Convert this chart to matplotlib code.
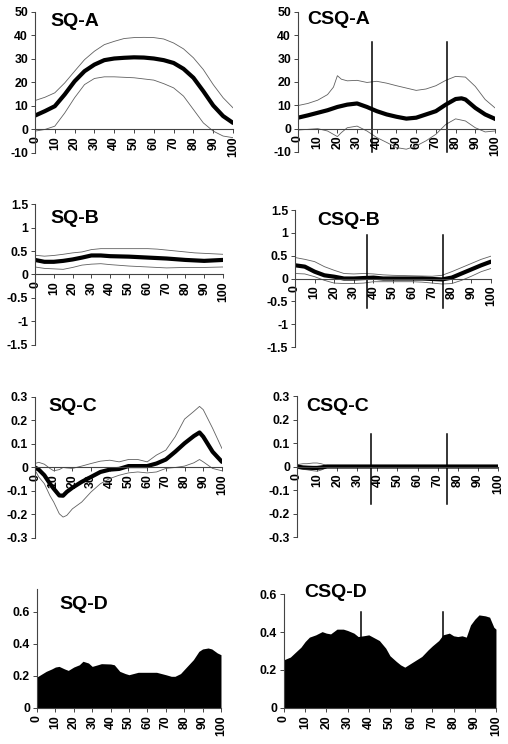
import matplotlib
matplotlib.use("Agg")
import matplotlib.pyplot as plt

plt.rcParams['font.family'] = ['Liberation Sans', 'DejaVu Sans']
plt.rcParams['font.weight'] = 'bold'

# x positions (% of cycle)
x21 = list(range(0, 101, 5))

# SQ-A
sqa_mean = [5.9, 7.8, 9.9, 14.9, 20.5, 24.8, 27.6, 29.5, 30.2, 30.5, 30.7,
            30.6, 30.2, 29.5, 28.3, 25.8, 22.0, 16.3, 10.2, 5.7, 2.8]
sqa_upper = [12.3, 13.7, 15.6, 19.8, 24.8, 29.7, 33.3, 36.1, 37.5, 38.7, 39.1,
             39.2, 39.1, 38.5, 36.8, 34.3, 30.5, 25.5, 19.1, 13.5, 9.2]
sqa_lower = [-0.7, 0.0, 1.4, 7.0, 13.5, 19.1, 21.7, 22.4, 22.4, 22.2, 22.0,
             21.5, 21.0, 19.5, 17.7, 14.2, 8.5, 2.8, -0.7, -2.8, -3.5]

# CSQ-A
csqa_mean_x = [0, 5, 10, 15, 20, 25, 30, 35, 40, 45, 50, 55, 60, 65, 70, 75, 80, 83, 85, 90, 95, 100]
csqa_mean = [4.7, 5.7, 6.8, 7.9, 9.3, 10.3, 10.8, 9.3, 7.5, 6.1, 5.1, 4.3, 4.7, 6.1, 7.5, 10.3,
             12.7, 13.0, 12.5, 8.9, 6.1, 4.2]
csqa_upper_x = [0, 5, 10, 15, 18, 20, 22, 25, 30, 35, 40, 45, 50, 55, 60, 65, 70, 75, 80, 85, 90, 95, 100]
csqa_upper = [9.9, 10.8, 12.2, 14.6, 17.8, 22.7, 21.2, 20.5, 20.7, 19.8, 20.3, 19.5, 18.4, 17.4,
              16.4, 17.0, 18.4, 20.7, 22.4, 22.1, 18.1, 12.5, 8.9]
csqa_lower_x = [0, 5, 10, 15, 20, 22, 25, 30, 35, 40, 45, 50, 55, 60, 65, 70, 75, 80, 85, 90, 95, 100]
csqa_lower = [-0.6, -0.3, 0.0, -1.0, -3.4, -1.7, 0.4, 1.1, -1.0, -3.8, -5.9, -8.1, -8.8, -7.4,
              -5.2, -2.4, 1.8, 4.2, 3.3, 0.4, -1.4, -1.0]
csqa_events = [37.6, 75.6]
csqa_event_span = [-10, 37]

# SQ-B
sqb_mean = [0.31, 0.27, 0.27, 0.29, 0.32, 0.36, 0.405, 0.405, 0.39, 0.385, 0.38,
            0.37, 0.36, 0.35, 0.34, 0.325, 0.31, 0.30, 0.29, 0.30, 0.31]
sqb_upper = [0.41, 0.39, 0.405, 0.43, 0.46, 0.48, 0.53, 0.55, 0.55, 0.55, 0.55,
             0.55, 0.55, 0.54, 0.52, 0.50, 0.48, 0.46, 0.45, 0.44, 0.43]
sqb_lower = [0.16, 0.13, 0.12, 0.11, 0.15, 0.20, 0.22, 0.23, 0.21, 0.195, 0.18,
             0.17, 0.16, 0.15, 0.14, 0.145, 0.15, 0.15, 0.15, 0.155, 0.16]

# CSQ-B
csqb_mean = [0.29, 0.26, 0.15, 0.07, 0.04, 0.0, 0.0, 0.01, 0.02, 0.0, 0.0,
             0.0, 0.0, 0.0, -0.01, -0.02, 0.02, 0.11, 0.20, 0.29, 0.37]
csqb_upper = [0.46, 0.42, 0.37, 0.26, 0.18, 0.11, 0.10, 0.11, 0.10, 0.08, 0.07,
              0.065, 0.06, 0.055, 0.05, 0.07, 0.15, 0.24, 0.33, 0.42, 0.49]
csqb_lower = [0.11, 0.10, 0.04, -0.04, -0.10, -0.11, -0.11, -0.10, -0.07, -0.07, -0.07,
              -0.07, -0.07, -0.08, -0.10, -0.12, -0.11, -0.04, 0.05, 0.15, 0.22]
csqb_events = [36.7, 75.5]
csqb_event_span = [-0.64, 0.95]

# SQ-C
sqc_x = [0, 2, 5, 8, 10, 13, 15, 17, 20, 25, 30, 35, 40, 45, 50, 55, 60, 65, 70, 75, 80, 85, 88, 90, 95, 100]
sqc_mean = [0.0, -0.009, -0.033, -0.069, -0.09, -0.119, -0.12, -0.104, -0.086, -0.061, -0.04,
            -0.019, -0.009, -0.006, 0.006, 0.006, 0.006, 0.017, 0.034, 0.067, 0.103, 0.134,
            0.149, 0.131, 0.067, 0.024]
sqc_upper = [0.017, 0.022, 0.014, -0.004, -0.014, -0.009, 0.0, -0.002, -0.004, 0.006, 0.017,
             0.027, 0.031, 0.024, 0.034, 0.034, 0.024, 0.053, 0.074, 0.131, 0.206, 0.239,
             0.26, 0.246, 0.167, 0.081]
sqc_lower = [-0.011, -0.04, -0.069, -0.12, -0.147, -0.197, -0.211, -0.204, -0.176, -0.147, -0.104,
             -0.069, -0.047, -0.033, -0.023, -0.019, -0.023, -0.019, -0.004, 0.0, 0.006, 0.02,
             0.034, 0.024, -0.004, -0.014]

# CSQ-C
csqc_x = [0, 3, 5, 8, 10, 12, 15, 20, 100]
csqc_mean = [0.0, -0.004, -0.005, -0.006, -0.006, -0.004, 0.0, 0.0, 0.0]
csqc_upper = [0.008, 0.012, 0.012, 0.015, 0.015, 0.012, 0.004, 0.002, 0.002]
csqc_lower = [-0.008, -0.012, -0.014, -0.018, -0.02, -0.015, -0.004, -0.002, -0.002]
csqc_events = [36.8, 74.6]
csqc_event_span = [-0.16, 0.137]

# SQ-D
sqd_x = [0, 3, 5, 8, 10, 12, 15, 17, 20, 23, 25, 28, 30, 33, 35, 40, 42, 45, 48, 50,
         55, 60, 65, 70, 73, 75, 78, 80, 85, 88, 90, 93, 95, 98, 100]
sqd_y = [0.194, 0.215, 0.229, 0.244, 0.256, 0.26, 0.244, 0.235, 0.256, 0.27, 0.292, 0.281,
         0.26, 0.27, 0.277, 0.275, 0.27, 0.229, 0.215, 0.208, 0.223, 0.223, 0.223, 0.208,
         0.198, 0.198, 0.215, 0.24, 0.302, 0.354, 0.369, 0.375, 0.369, 0.344, 0.333]

# CSQ-D
csqd_x = [0, 3, 5, 8, 10, 12, 15, 18, 20, 22, 25, 28, 30, 33, 35, 38, 40, 43, 45, 48, 50,
          53, 55, 57, 60, 63, 65, 68, 70, 73, 75, 78, 80, 82, 84, 86, 88, 90, 92, 95, 97, 99, 100]
csqd_y = [0.254, 0.268, 0.289, 0.32, 0.35, 0.373, 0.385, 0.402, 0.394, 0.39, 0.415, 0.415,
          0.408, 0.394, 0.376, 0.381, 0.385, 0.367, 0.355, 0.315, 0.275, 0.245, 0.227, 0.215,
          0.236, 0.257, 0.271, 0.306, 0.327, 0.355, 0.385, 0.394, 0.38, 0.376, 0.38, 0.373,
          0.437, 0.467, 0.49, 0.485, 0.478, 0.425, 0.415]
csqd_events = [36.3, 75.0]
csqd_event_span = [0, 0.505]

xticks = list(range(0, 101, 10))

fig = plt.figure(figsize=(5.08, 7.44), dpi=100)


def setup(ax, ylim, yticks, ylabels, title, tpos):
    ax.set_xlim(0, 100)
    ax.set_ylim(*ylim)
    for s in ['top', 'right']:
        ax.spines[s].set_visible(False)
    ax.spines['bottom'].set_position(('data', 0))
    for s in ['left', 'bottom']:
        ax.spines[s].set_color('#444444')
        ax.spines[s].set_linewidth(0.8)
    ax.set_yticks(yticks)
    ax.set_yticklabels(ylabels, fontsize=8.8, fontweight='bold')
    ax.set_xticks(xticks)
    ax.set_xticklabels([str(t) for t in xticks], rotation=90, fontsize=8.8,
                       fontweight='bold')
    ax.tick_params(axis='both', direction='out', length=3, width=0.7,
                   color='#444444', pad=2)
    ax.text(tpos[0], tpos[1], title, transform=ax.transAxes, fontsize=14,
            fontweight='bold', va='center', ha='left', clip_on=False)


def sd_lines(ax, x, mean, upper, lower):
    ax.plot(x, upper, color='#606060', lw=0.6)
    ax.plot(x, lower, color='#606060', lw=0.6)
    ax.plot(x, mean, color='black', lw=3, solid_capstyle='round')


def events(ax, xs, span):
    for ev in xs:
        ax.plot([ev, ev], span, color='black', lw=1.1, clip_on=False)


a_ticks = [-10, 0, 10, 20, 30, 40, 50]
a_labels = ['-10', '0', '10', '20', '30', '40', '50']
b_ticks = [-1.5, -1, -0.5, 0, 0.5, 1, 1.5]
b_labels = ['-1.5', '-1', '-0.5', '0', '0.5', '1', '1.5']
c_ticks = [-0.3, -0.2, -0.1, 0, 0.1, 0.2, 0.3]
c_labels = ['-0.3', '-0.2', '-0.1', '0', '0.1', '0.2', '0.3']
d_ticks = [0, 0.2, 0.4, 0.6]
d_labels = ['0', '0.2', '0.4', '0.6']

# SQ-A
ax = fig.add_axes([0.0689, 0.7944, 0.3898, 0.1895])
sd_lines(ax, x21, sqa_mean, sqa_upper, sqa_lower)
setup(ax, (-10, 50), a_ticks, a_labels, 'SQ-A', (0.076, 0.936))

# CSQ-A
ax = fig.add_axes([0.5866, 0.7957, 0.3878, 0.1882])
ax.plot(csqa_upper_x, csqa_upper, color='#606060', lw=0.6)
ax.plot(csqa_lower_x, csqa_lower, color='#606060', lw=0.6)
ax.plot(csqa_mean_x, csqa_mean, color='black', lw=3)
events(ax, csqa_events, csqa_event_span)
setup(ax, (-10, 50), a_ticks, a_labels, 'CSQ-A', (0.046, 0.943))

# SQ-B
ax = fig.add_axes([0.0689, 0.5363, 0.370, 0.1895])
sd_lines(ax, x21, sqb_mean, sqb_upper, sqb_lower)
setup(ax, (-1.5, 1.5), b_ticks, b_labels, 'SQ-B', (0.08, 0.90))

# CSQ-B
ax = fig.add_axes([0.5807, 0.5336, 0.3858, 0.1841])
sd_lines(ax, x21, csqb_mean, csqb_upper, csqb_lower)
events(ax, csqb_events, csqb_event_span)
setup(ax, (-1.5, 1.5), b_ticks, b_labels, 'CSQ-B', (0.112, 0.927))

# SQ-C
ax = fig.add_axes([0.0689, 0.2769, 0.368, 0.1895])
sd_lines(ax, sqc_x, sqc_mean, sqc_upper, sqc_lower)
setup(ax, (-0.3, 0.3), c_ticks, c_labels, 'SQ-C', (0.07, 0.936))

# CSQ-C
ax = fig.add_axes([0.5846, 0.2782, 0.3957, 0.1895])
sd_lines(ax, csqc_x, csqc_mean, csqc_upper, csqc_lower)
events(ax, csqc_events, csqc_event_span)
setup(ax, (-0.3, 0.3), c_ticks, c_labels, 'CSQ-C', (0.045, 0.929))

# SQ-D
ax = fig.add_axes([0.0728, 0.0484, 0.3622, 0.16])
ax.fill_between(sqd_x, 0, sqd_y, color='black', lw=0)
setup(ax, (0, 0.744), d_ticks, d_labels, 'SQ-D', (0.12, 0.866))

# CSQ-D
ax = fig.add_axes([0.559, 0.0484, 0.4173, 0.1532])
ax.fill_between(csqd_x, 0, csqd_y, color='black', lw=0)
events(ax, csqd_events, csqd_event_span)
setup(ax, (0, 0.6), d_ticks, d_labels, 'CSQ-D', (0.094, 1.01))

fig.savefig('out.png', dpi=100)
